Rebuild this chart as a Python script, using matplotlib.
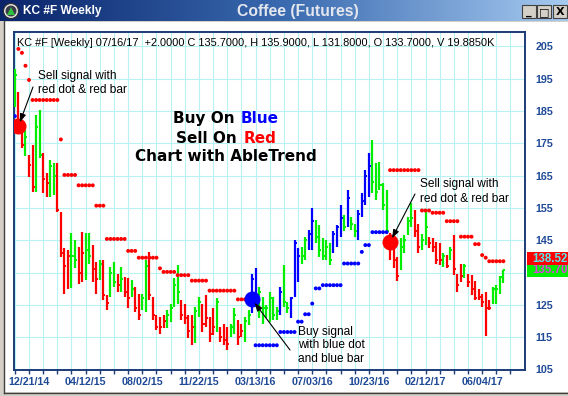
import numpy as np
import pandas as pd
import matplotlib
matplotlib.use('Agg')
import matplotlib.pyplot as plt
import matplotlib.dates as mdates
import matplotlib.transforms as mtransforms
from matplotlib.patches import Rectangle, Circle, Polygon
from matplotlib.colors import LinearSegmentedColormap

# ---------------- data ----------------
first_week = '2014-11-23'
n_weeks = 139

highs = [197.9, 191.0, 180.1, 179.1,
         171.4, 174.5, 183.7, 185.3, 171.9, 165.7, 169.8, 169.0, 168.8, 153.8,
         142.5, 142.0, 147.1, 145.0, 143.0, 147.6, 147.1, 147.1, 143.5, 138.3,
         138.8, 138.8, 128.0, 136.8, 138.3, 134.7, 136.8, 133.7, 133.2, 132.7,
         130.6, 128.5, 128.5, 138.8, 141.4, 127.5, 121.8, 121.3, 121.8, 123.4,
         125.4, 133.2, 137.3, 126.5, 125.4, 121.8, 121.8, 124.4, 127.5, 125.4,
         128.0, 121.3, 123.9, 127.0, 118.2, 119.2, 118.2, 119.2, 123.9, 120.3,
         119.2, 121.3, 123.4, 134.7, 136.3, 130.6, 127.5, 125.0, 129.0, 127.5,
         124.4, 130.6, 137.3, 126.0, 127.5, 145.0, 142.5, 143.0, 146.1, 148.1,
         155.0, 151.2, 149.7, 145.6, 145.0, 144.0, 148.0, 149.7, 155.9, 152.8,
         160.5, 152.3, 150.0, 154.3, 159.5, 166.7, 171.9, 176.0, 168.8, 169.3,
         162.6, 160.5, 147.1, 144.0, 139.9, 145.6, 146.6, 152.3, 156.5, 154.3,
         150.0, 147.0, 154.3, 146.0, 145.6, 144.5, 144.0, 141.0, 140.4, 143.0,
         146.6, 134.7, 137.8, 137.8, 134.7, 134.2, 132.5, 130.0, 128.5, 129.0,
         126.5, 130.6, 131.0, 134.0, 135.9]

lows = [186.3, 179.1, 173.7, 171.0,
        164.6, 160.0, 160.0, 170.3, 159.5, 158.5, 158.5, 159.0, 153.8, 139.9,
        128.5, 130.0, 130.1, 136.3, 131.6, 132.1, 132.7, 137.8, 132.1, 128.5,
        132.7, 126.5, 123.4, 127.5, 130.6, 129.0, 129.0, 127.5, 123.9, 127.5,
        122.9, 120.3, 123.4, 122.9, 126.5, 120.3, 117.2, 116.1, 117.7, 117.7,
        119.8, 124.4, 125.4, 120.3, 119.2, 114.6, 112.5, 113.1, 121.3, 116.7,
        118.2, 113.6, 115.6, 116.7, 113.6, 112.5, 111.0, 115.1, 116.1, 112.5,
        115.1, 113.6, 118.7, 122.4, 125.4, 120.8, 119.2, 120.8, 119.7, 120.3,
        120.3, 121.8, 124.4, 122.5, 120.8, 127.5, 132.1, 137.8, 138.8, 142.0,
        142.0, 144.0, 139.9, 138.8, 138.8, 137.3, 140.9, 143.0, 146.1, 148.0,
        149.2, 148.1, 146.0, 145.0, 152.3, 155.9, 158.5, 159.5, 157.4, 160.5,
        154.3, 147.1, 139.0, 136.3, 132.5, 135.7, 140.9, 146.6, 149.2, 146.0,
        141.0, 142.0, 143.5, 142.5, 141.4, 137.8, 137.3, 136.8, 136.3, 138.8,
        134.2, 129.0, 132.1, 133.2, 130.6, 128.0, 126.5, 126.5, 124.4, 115.5,
        123.4, 125.4, 125.4, 128.5, 131.8]

closes = [196.0, 180.5, 174.5, 177.0,
          168.3, 161.5, 180.1, 171.3, 164.0, 162.7, 168.0, 165.0, 154.5, 141.0,
          137.0, 140.0, 140.0, 139.0, 135.0, 141.0, 142.0, 140.0, 136.0, 133.0,
          137.5, 128.0, 125.5, 135.0, 132.0, 131.0, 133.0, 129.0, 127.0, 130.0,
          124.0, 122.0, 127.0, 137.0, 128.0, 122.0, 118.0, 118.0, 120.0, 122.0,
          124.0, 131.0, 129.0, 122.0, 121.0, 117.0, 118.0, 123.0, 126.0, 119.0,
          121.0, 116.0, 118.0, 126.0, 115.0, 114.0, 113.0, 118.0, 122.0, 115.0,
          117.0, 120.0, 122.0, 133.0, 127.0, 129.0, 124.0, 124.0, 127.0, 122.0,
          123.0, 129.0, 126.0, 124.0, 127.0, 144.0, 140.0, 140.0, 145.0, 147.0,
          151.0, 146.0, 142.0, 140.0, 143.0, 139.0, 147.0, 149.0, 152.0, 149.0,
          158.0, 150.0, 148.0, 153.0, 157.0, 165.0, 168.0, 163.0, 160.0, 162.0,
          156.0, 148.0, 143.0, 139.0, 134.0, 143.0, 145.0, 151.0, 152.0, 148.0,
          143.0, 145.0, 149.0, 144.0, 143.0, 139.0, 139.0, 140.0, 137.0, 142.0,
          136.0, 131.0, 134.0, 137.0, 132.0, 130.0, 127.0, 127.5, 126.0, 124.0,
          124.0, 130.0, 130.0, 133.5, 135.7]

bar_colors = ("grrg"
              "rrggrrggrr" "rrggrrggrr" "grrggrgrrg" "rrggrrrrrg"
              "gggrrrrggr" "rrrgrrrggr" "rggbbggggg" "gbggbbbggb"
              "bgggggbbbg" "bggbbbbggg" "ggrrrggggr" "rggrrrrgrg"
              "rrrgrrrrrr" "rgggg")

stops = [183.4, 204.2, 203.0, 199.0,
         194.6, 188.4, 188.4, 188.4, 188.4, 188.4, 188.4, 188.4, 188.4, 176.2,
         165.2, 165.2, 165.2, 165.2, 162.0, 162.0, 162.0, 162.0, 162.0, 155.7,
         155.7, 155.7, 145.4, 145.4, 145.4, 145.4, 145.4, 145.4, 141.7, 141.7,
         141.7, 139.6, 139.6, 139.6, 139.6, 139.6, 139.6, 136.3, 135.2, 135.2,
         135.2, 135.2, 134.2, 134.2, 134.2, 134.2, 132.5, 132.5, 132.5, 132.5,
         132.5, 129.4, 129.4, 129.4, 129.4, 129.4, 129.4, 129.4, 129.4, 126.7,
         126.7, 126.7, 126.7, 126.7, 112.5, 112.5, 112.5, 112.5, 112.5, 112.5,
         112.5, 116.6, 116.6, 116.6, 116.6, 116.6, 119.8, 119.8, 122.1, 122.1,
         125.4, 130.1, 130.1, 131.1, 131.1, 131.1, 131.1, 131.1, 131.1, 137.8,
         137.8, 137.8, 137.8, 137.8, 141.4, 143.5, 143.5, 147.5, 147.5, 147.5,
         147.5, 147.5, 166.7, 166.7, 166.7, 166.7, 166.7, 166.7, 166.7, 166.7,
         166.7, 154.2, 154.2, 154.2, 153.5, 153.5, 153.5, 153.5, 150.9, 150.9,
         150.9, 150.9, 146.1, 146.1, 146.1, 146.1, 143.8, 143.8, 140.4, 139.6,
         138.5, 138.5, 138.5, 138.5, 138.5]

stop_colors = ("brrr"
               "rrrrrrrrrr" "rrrrrrrrrr" "rrrrrrrrrr" "rrrrrrrrrr"
               "rrrrrrrrrr" "rrrrrrrrrr" "rrrrbbbbbb" "bbbbbbbbbb"
               "bbbbbbbbbb" "bbbbbbbbbb" "bbrrrrrrrr" "rrrrrrrrrr"
               "rrrrrrrrrr" "rrrrr")

signal_index = [1, 67, 106]
signal_price = [180.3, 126.7, 144.5]
signal_color = ['#ff0000', '#0000ff', '#ff0000']

xtick_labels = ["12/21/14", "04/12/15", "08/02/15", "11/22/15", "03/13/16",
                "07/03/16", "10/23/16", "02/12/17", "06/04/17"]
ytick_values = [105, 115, 125, 135, 145, 155, 165, 175, 185, 195, 205]

last_stop = 138.528
last_close = 135.700
header = ("KC #F [Weekly] 07/16/17  +2.0000 C 135.7000, H 135.9000, "
          "L 131.8000, O 133.7000, V 19.8850K")

# ---------------- figure ----------------
W, H = 568, 396
fig = plt.figure(figsize=(W / 100, H / 100), dpi=100)
fig.patch.set_facecolor('#d4d0c8')

bg = fig.add_axes([0, 0, 1, 1])
bg.axis('off')
bg.set_zorder(0)
grad = np.linspace(0, 1, 256).reshape(1, -1)
tb_cmap = LinearSegmentedColormap.from_list('tb', ['#0a246a', '#3a6ab0', '#a6caf0'])
bg.imshow(grad, extent=(0, W, 21, 0), cmap=tb_cmap, aspect='auto', zorder=1)
bg.add_patch(Rectangle((5, 22), W - 5, 370, facecolor='white', edgecolor='none', zorder=1))
bg.plot([3.5, 3.5], [21, 393], color='#404040', lw=1.0, zorder=2)
bg.plot([3.5, W], [392.5, 392.5], color='#404040', lw=1.0, zorder=2)
bg.set_xlim(0, W)
bg.set_ylim(H, 0)

# title bar icon
bg.add_patch(Circle((11, 11), 7.5, facecolor='#e8e8e8', edgecolor='#303030', lw=0.8, zorder=3))
bg.add_patch(Circle((11, 11), 5.5, facecolor='#3a3a4a', edgecolor='none', zorder=3))
bg.add_patch(Polygon([[7, 15], [11, 7], [15, 15]], closed=True, facecolor='#30c040',
                     edgecolor='none', zorder=4))
bg.text(23, 11, 'KC #F Weekly', color='white', fontsize=8.6, fontweight='bold',
        family='Liberation Sans', va='center', ha='left', zorder=4)
bg.text(298, 11.5, 'Coffee (Futures)', color='#e4e7ee', fontsize=11.3, fontweight='bold',
        family='Liberation Sans', va='center', ha='center', zorder=4)
for bx, glyph in [(522, '_'), (537, '□'), (553, 'X')]:
    bg.add_patch(Rectangle((bx, 5), 14, 13, facecolor='#d4d0c8', edgecolor='#404040',
                           lw=0.8, zorder=3))
    bg.text(bx + 7, 12, glyph, fontsize=8, fontweight='bold', color='black',
            family='DejaVu Sans', ha='center', va='center', zorder=4)

# ---------------- main chart ----------------
x_left, x_right, y_top, y_bot = 14, 525, 31.5, 369.5
ax = fig.add_axes([x_left / W, 1 - y_bot / H, (x_right - x_left) / W, (y_bot - y_top) / H])
ax.set_facecolor('white')
ax.set_zorder(5)

dates = pd.date_range(first_week, periods=n_weeks, freq='7D')
xs = mdates.date2num(dates)
tick_dates = mdates.date2num(pd.to_datetime(xtick_labels, format='%m/%d/%y'))
d0 = tick_dates[0]
ax.set_xlim(d0 - 4.24 * 7, d0 + 140.1 * 7)
ax.set_ylim(105, 209.6)

cmap_code = {'r': '#ff0000', 'g': '#00ee00', 'b': '#0000ff'}
bcols = [cmap_code[c] for c in bar_colors]
scols = [cmap_code[c] for c in stop_colors]

ax.vlines(xs, lows, highs, colors=bcols, lw=1.6, zorder=3)
ax.hlines(closes, xs, xs + 4.0, colors=bcols, lw=1.4, zorder=3)
ax.scatter(xs, stops, s=8, c=scols, marker='o', linewidths=0, zorder=4)
for i, p, c in zip(signal_index, signal_price, signal_color):
    ax.plot(xs[i], p, 'o', ms=10.5, color=c, mec=c, zorder=6)

# axes styling
minor_dates = mdates.date2num(pd.date_range('2014-11-23', '2017-08-20', freq='28D'))
ax.set_xticks(tick_dates)
ax.set_xticklabels(xtick_labels)
ax.set_xticks(minor_dates, minor=True)
ax.set_yticks(ytick_values)
ax.set_yticklabels([str(v) for v in ytick_values])
ax.yaxis.tick_right()
navy = '#1e4a96'
ax.tick_params(axis='x', which='both', direction='out', length=3, width=1.0,
               color='#1c3c78', pad=2.5)
ax.tick_params(axis='x', which='major', labelsize=7.7, labelcolor=navy)
ax.tick_params(axis='y', which='both', length=0, pad=7.5, labelsize=7.7, labelcolor=navy)
for lab in ax.get_xticklabels() + ax.get_yticklabels():
    lab.set_fontweight('bold')
    lab.set_family('Liberation Sans')
ax.grid(True, axis='x', which='both', color='#b8f2f2', lw=0.8)
ax.grid(True, axis='y', which='major', color='#b8f2f2', lw=0.8)
ax.set_axisbelow(True)
for s in ax.spines.values():
    s.set_color('#1c3c78')
    s.set_linewidth(1.4)

arrow_kw = dict(arrowstyle='-|>,head_length=0.5,head_width=0.18', color='black',
                lw=0.8, shrinkA=0, shrinkB=3)

# price boxes on the right
trans = mtransforms.blended_transform_factory(ax.transAxes, ax.transData)
ax.add_patch(Rectangle((1.003, last_close - 2.0), 0.1, 4.0, transform=trans,
                       facecolor='#00ee00', edgecolor='none', clip_on=False, zorder=7))
ax.text(1.014, last_close, f'{last_close:.3f}', transform=trans, color='#e040e0',
        fontsize=8.3, fontweight='bold', family='Liberation Sans', va='center',
        ha='left', clip_on=False, zorder=7)
ax.add_patch(Rectangle((1.003, last_stop - 1.2), 0.1, 4.0, transform=trans,
                       facecolor='#ff0000', edgecolor='none', clip_on=False, zorder=8))
ax.text(1.014, last_stop + 0.8, f'{last_stop:.3f}', transform=trans, color='#5ae8f0',
        fontsize=8.3, fontweight='bold', family='Liberation Sans', va='center',
        ha='left', clip_on=False, zorder=9)

# ---------------- overlay texts (on top of the chart) ----------------
top = fig.add_axes([0, 0, 1, 1])
top.axis('off')
top.patch.set_alpha(0)
top.set_zorder(20)
top.set_xlim(0, W)
top.set_ylim(H, 0)

ax.annotate('', xy=(xs[1], 180.3), xytext=(33, 87), textcoords=top.transData,
            arrowprops=arrow_kw, zorder=8)
ax.annotate('', xy=(xs[106], 144.5), xytext=(415, 194), textcoords=top.transData,
            arrowprops=arrow_kw, zorder=8)
ax.annotate('', xy=(xs[67], 126.7), xytext=(290, 350), textcoords=top.transData,
            arrowprops=arrow_kw, zorder=8)

top.text(17, 46, header, fontsize=7.9, family='Liberation Sans', color='black',
         va='baseline', ha='left')

big_kw = dict(fontsize=11, fontweight='bold', family='DejaVu Sans', va='baseline')
top.text(173, 123.3, 'Buy On', color='black', **big_kw)
top.text(241, 123.3, 'Blue', color='#0000ff', **big_kw)
top.text(176, 142.7, 'Sell On', color='black', **big_kw)
top.text(244, 142.7, 'Red', color='#ff0000', **big_kw)
top.text(226, 160.7, 'Chart with AbleTrend', color='black', ha='center', **big_kw)

note_kw = dict(fontsize=8.6, family='Liberation Sans', color='black', va='baseline',
               ha='left')
top.text(38, 79.3, 'Sell signal with', **note_kw)
top.text(38, 93.3, 'red dot & red bar', **note_kw)
top.text(420, 186.7, 'Sell signal with', **note_kw)
top.text(420, 201.7, 'red dot & red bar', **note_kw)
top.text(298, 335, 'Buy signal', **note_kw)
top.text(298, 348.3, 'with blue dot', **note_kw)
top.text(298, 361.7, 'and blue bar', **note_kw)

fig.savefig('out.png', dpi=100, facecolor=fig.get_facecolor())
